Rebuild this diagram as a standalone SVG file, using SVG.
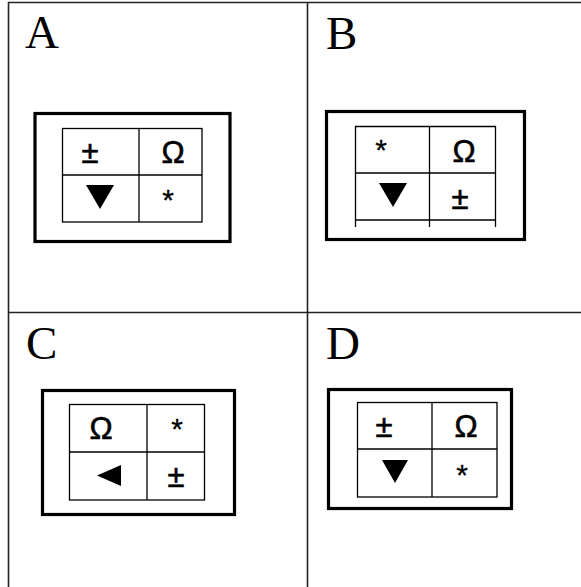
<svg xmlns="http://www.w3.org/2000/svg" width="581" height="587" viewBox="0 0 581 587">
<style>
.grid{stroke:#222;stroke-width:1.6;fill:none}
.outer{stroke:#000;stroke-width:3.2;fill:none}
.cell{stroke:#000;stroke-width:1.3;fill:none}
.lbl{font-family:"Liberation Serif",serif;font-size:47px;fill:#000}
.sym{font-family:"Liberation Sans",Arial,sans-serif;font-size:31px;fill:#000;stroke:#000;stroke-width:0.6;text-anchor:middle}
.ast{font-family:"Liberation Sans",Arial,sans-serif;font-size:30px;fill:#000;stroke:#000;stroke-width:0.3;text-anchor:middle}
.tri{fill:#000}
</style>
<rect width="581" height="587" fill="#fff"/>
<g id="frame">
<line class="grid" x1="8" y1="2.5" x2="581" y2="2.5"/>
<line class="grid" x1="8.5" y1="2" x2="8.5" y2="587"/>
<line class="grid" x1="307.5" y1="2" x2="307.5" y2="587"/>
<line class="grid" x1="8" y1="312.5" x2="581" y2="312.5"/>
</g>
<g id="panelA">
<text class="lbl" x="25" y="48">A</text>
<rect class="outer" x="35" y="113.5" width="195" height="128"/>
<rect class="cell" x="62.5" y="128.5" width="139.5" height="93.5"/>
<line class="cell" x1="139" y1="128.5" x2="139" y2="222"/>
<line class="cell" x1="62.5" y1="175" x2="202" y2="175"/>
<text class="sym" x="90" y="163">±</text>
<text class="sym" x="173" y="163">Ω</text>
<polygon class="tri" points="86,185 114,185 100,209"/>
<text class="ast" x="168" y="210">*</text>
</g>
<g id="panelB">
<text class="lbl" x="326" y="49">B</text>
<rect class="outer" x="326.5" y="111.5" width="198" height="128"/>
<line class="cell" x1="355" y1="126.5" x2="496" y2="126.5"/>
<line class="cell" x1="355" y1="220" x2="496" y2="220"/>
<line class="cell" x1="355" y1="173" x2="496" y2="173"/>
<line class="cell" x1="355.5" y1="126" x2="355.5" y2="227"/>
<line class="cell" x1="429.5" y1="126" x2="429.5" y2="227"/>
<line class="cell" x1="495.5" y1="126" x2="495.5" y2="227"/>
<text class="ast" x="381" y="160">*</text>
<text class="sym" x="464" y="162">Ω</text>
<polygon class="tri" points="379,183 407,183 393,207"/>
<text class="sym" x="460" y="209">±</text>
</g>
<g id="panelC">
<text class="lbl" x="26" y="359">C</text>
<rect class="outer" x="42.5" y="390.5" width="192" height="124"/>
<rect class="cell" x="69.5" y="404.5" width="135" height="95.5"/>
<line class="cell" x1="147" y1="404.5" x2="147" y2="500"/>
<line class="cell" x1="69.5" y1="452" x2="204.5" y2="452"/>
<text class="sym" x="101" y="439">Ω</text>
<text class="ast" x="177" y="439">*</text>
<polygon class="tri" points="121,465 121,486 97,475.5"/>
<text class="sym" x="176" y="487">±</text>
</g>
<g id="panelD">
<text class="lbl" x="326" y="359">D</text>
<rect class="outer" x="328.5" y="389.5" width="183" height="119"/>
<rect class="cell" x="357.5" y="402.5" width="139.5" height="94.5"/>
<line class="cell" x1="432" y1="402.5" x2="432" y2="497"/>
<line class="cell" x1="357.5" y1="449" x2="497" y2="449"/>
<text class="sym" x="384" y="437">±</text>
<text class="sym" x="466" y="437">Ω</text>
<polygon class="tri" points="382,460 408,460 395,483"/>
<text class="ast" x="462" y="485">*</text>
</g>
<g id="connectors"/>
</svg>
